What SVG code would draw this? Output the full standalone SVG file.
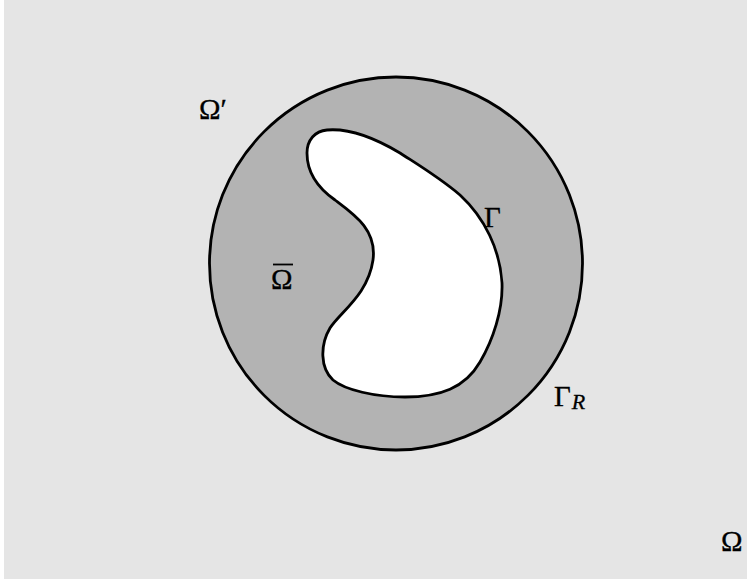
<svg xmlns="http://www.w3.org/2000/svg" width="747" height="579" viewBox="0 0 747 579">
<style>
.lbl{font-family:"Liberation Serif","DejaVu Serif",serif;font-size:29px;fill:#000;stroke:#000;stroke-width:0.3}
.it{font-style:italic;font-size:22px}
</style>
<rect x="0" y="0" width="747" height="579" fill="#ffffff"/>
<rect id="omega" x="4" y="0" width="743" height="579" fill="#e5e5e5"/>
<g id="ball">
<circle cx="396" cy="263.5" r="186.5" fill="#b3b3b3" stroke="#000" stroke-width="2.8"/>
</g>
<g id="obstacle">
<path d="M327,130 C350,128 375,138 400,153 C420,166 440,178 460,195 C485,218 500,250 502,283 C503,310 493,340 480,362 C465,388 440,397 405,397 C375,397 345,390 333,380 C320,368 320,345 330,328 C340,312 368,295 373,260 C377,230 355,215 335,200 C315,186 307,170 307,153 C307,140 315,131 327,130 Z" fill="#ffffff" stroke="#000" stroke-width="2.8"/>
</g>
<g id="labels">
<text class="lbl" x="199" y="119">Ω′</text>
<line x1="273" y1="264.5" x2="293" y2="264.5" stroke="#000" stroke-width="1.8"/>
<text class="lbl" x="271" y="289">Ω</text>
<text class="lbl" x="484" y="227">Γ</text>
<text class="lbl" x="554" y="406">Γ<tspan class="it" dx="1" dy="3">R</tspan></text>
<text class="lbl" x="721" y="551">Ω</text>
</g>
</svg>
